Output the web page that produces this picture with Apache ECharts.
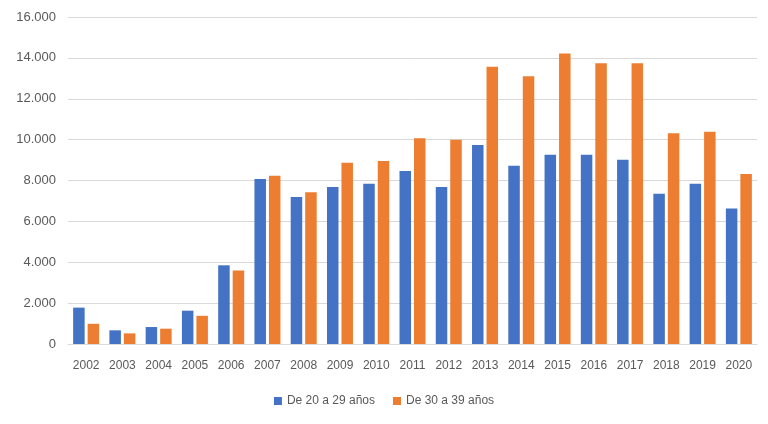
<!DOCTYPE html>
<html><head><meta charset="utf-8">
<script src="https://cdn.jsdelivr.net/npm/echarts@6/dist/echarts.min.js"></script>
<style>html,body{margin:0;padding:0;background:#fff}#c{width:768px;height:424px}</style>
</head><body><div id="c"></div>
<script>
const years = ['2002','2003','2004','2005','2006','2007','2008','2009','2010','2011','2012','2013','2014','2015','2016','2017','2018','2019','2020'];
const age20to29 = [1780,670,830,1630,3850,8070,7190,7680,7840,8470,7680,9740,8720,9260,9260,9010,7350,7840,6630];
const age30to39 = [990,520,750,1380,3600,8230,7430,8870,8950,10070,9990,13570,13100,14210,13740,13740,10310,10380,8320];
const yTicks = [0,2000,4000,6000,8000,10000,12000,14000,16000];
const font = '"Liberation Sans","Noto Sans",sans-serif';
const fmt = v => v === 0 ? '0' : String(v).replace(/\B(?=(\d{3})+(?!\d))/g, '.');
const chart = echarts.init(document.getElementById('c'));
chart.setOption({
  animation: false,
  textStyle: {fontFamily: font},
  grid: {left: 68, right: 11, top: 17, bottom: 80, containLabel: false},
  legend: {
    bottom: 12, left: 'center', itemWidth: 8, itemHeight: 8, itemGap: 18,
    icon: 'rect',
    textStyle: {color: '#595959', fontSize: 12, fontFamily: font},
    data: ['De 20 a 29 años', 'De 30 a 39 años']
  },
  xAxis: {
    type: 'category', data: years,
    axisLine: {lineStyle: {color: '#d9d9d9', width: 1}},
    axisTick: {show: false},
    axisLabel: {color: '#595959', fontSize: 12, margin: 16, interval: 0, fontFamily: font}
  },
  yAxis: {
    type: 'value', min: yTicks[0], max: yTicks[yTicks.length-1], interval: 2000,
    axisLine: {show: false}, axisTick: {show: false},
    splitLine: {lineStyle: {color: '#d9d9d9', width: 1}},
    axisLabel: {color: '#595959', fontSize: 13, margin: 12, fontFamily: font, formatter: fmt}
  },
  series: [
    {name: 'De 20 a 29 años', type: 'bar', data: age20to29, barWidth: 11.5, barGap: '26%',
     itemStyle: {color: '#4472C4'}},
    {name: 'De 30 a 39 años', type: 'bar', data: age30to39, barWidth: 11.5, barGap: '26%',
     itemStyle: {color: '#ED7D31'}}
  ]
});
</script></body></html>
